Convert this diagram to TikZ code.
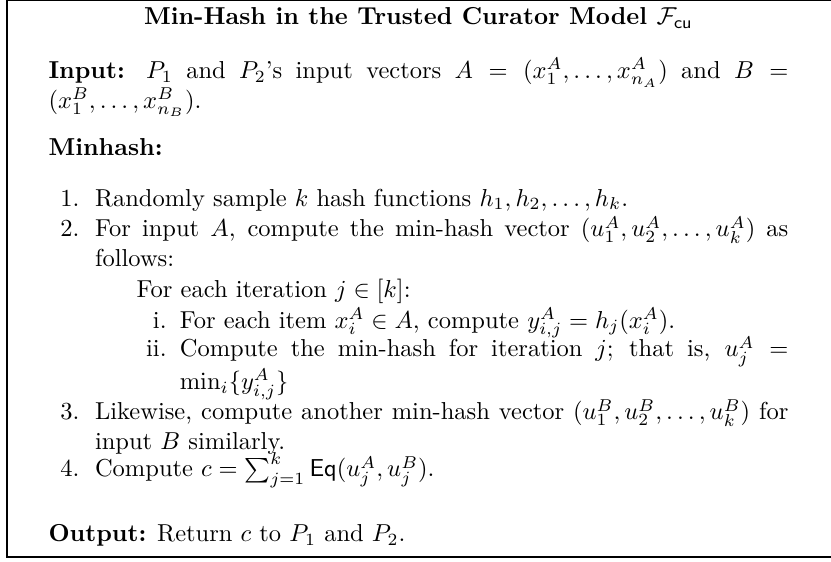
\documentclass[tikz,border=0pt]{standalone}
\usepackage{amsmath, amssymb}
\usepackage{tikz}
\usetikzlibrary{positioning}

\begin{document}
\begin{tikzpicture}[x=1pt, y=1pt,
  body/.style={anchor=base west, inner sep=0pt, text width=302pt, align=justify},
  itemtext/.style={anchor=base west, inner sep=0pt, text width=283pt, align=justify},
  subtext/.style={anchor=base west, inner sep=0pt, text width=248.4pt, align=justify},
  numlabel/.style={anchor=base east, inner sep=0pt},
  heading/.style={anchor=base west, inner sep=0pt, font=\bfseries}]
  \useasboundingbox (0,0) rectangle (339.2,-229);

  % Frame
  \draw[line width=0.6pt] (2.9,-0.3) rectangle (342,-227.3);

  % Title
  \node[anchor=base, inner sep=0pt, font=\bfseries] (title) at (170.8,-10.2) {Min-Hash in the Trusted Curator Model $\mathcal{F}_{\mathsf{cu}}$};

  % Input
  \node[body] (input) at (19.6,-32.2) {\textbf{Input:} $P_1$ and $P_2$'s input vectors $A=(x^A_1,\ldots,x^A_{n_A})$ and $B=$\linebreak$(x^B_1,\ldots,x^B_{n_B})$.};

  % Minhash
  \node[heading] (minhash) at (19.6,-63.3) {Minhash:};

  % Step 1
  \node[numlabel] (lbl1) at (32.6,-84.1) {1.};
  \node[itemtext] (step1) at (38.6,-84.1) {Randomly sample $k$ hash functions $h_1,h_2,\ldots,h_k$.};

  % Step 2
  \node[numlabel] (lbl2) at (32.6,-96.7) {2.};
  \node[itemtext] (step2) at (38.6,-96.7) {For input $A$, compute the min-hash vector $(u^A_1,u^A_2,\ldots,u^A_k)$ as\linebreak follows:};
  \node[anchor=base west, inner sep=0pt] (iter) at (55.6,-121.6) {For each iteration $j\in[k]$:};

  % Sub-steps
  \node[numlabel] (lbli) at (68.2,-133.9) {i.};
  \node[subtext] (subi) at (73.2,-133.9) {For each item $x^A_i\in A$, compute $y^A_{i,j}=h_j(x^A_i)$.};
  \node[numlabel] (lblii) at (68.2,-145.7) {ii.};
  \node[subtext] (subii) at (73.2,-145.7) {Compute the min-hash for iteration $j$; that is, $u^A_j=$\linebreak$\min_i\{y^A_{i,j}\}$};

  % Step 3
  \node[numlabel] (lbl3) at (32.6,-171.4) {3.};
  \node[itemtext] (step3) at (38.6,-171.4) {Likewise, compute another min-hash vector $(u^B_1,u^B_2,\ldots,u^B_k)$ for\linebreak input $B$ similarly.};

  % Step 4
  \node[numlabel] (lbl4) at (32.6,-194.7) {4.};
  \node[itemtext] (step4) at (38.6,-194.7) {Compute $c=\sum_{j=1}^k \mathsf{Eq}(u^A_j,u^B_j)$.};

  % Output
  \node[body] (output) at (19.6,-221.2) {\textbf{Output:} Return $c$ to $P_1$ and $P_2$.};
\end{tikzpicture}
\end{document}
